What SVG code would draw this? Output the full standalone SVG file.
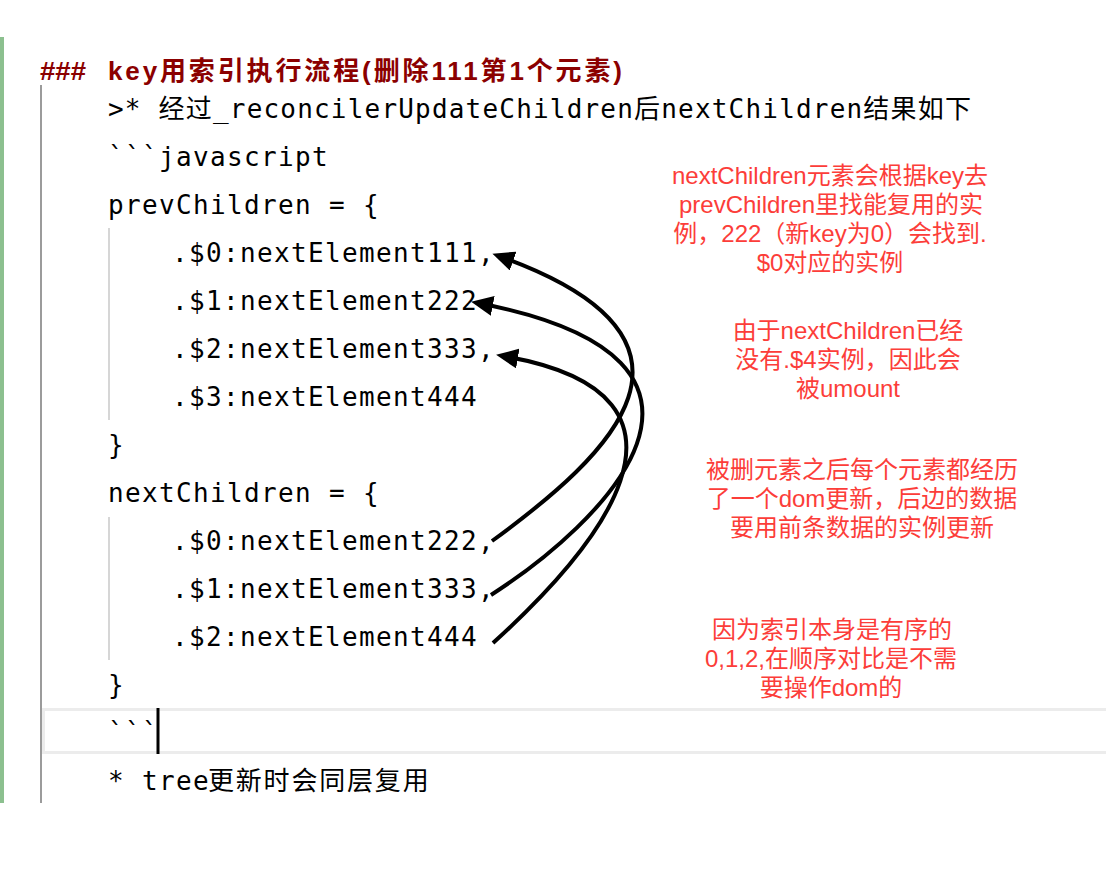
<svg xmlns="http://www.w3.org/2000/svg" width="1106" height="886" viewBox="0 0 1106 886">
<style>
.code{font-family:"DejaVu Sans Mono","Noto Sans CJK SC",monospace;font-size:26px;fill:#000;letter-spacing:1.35px}
.cjk{font-family:"DejaVu Sans Mono","Noto Sans CJK SC",monospace;font-size:26px;fill:#000}
.head{font-family:"Liberation Sans","Noto Sans CJK SC",sans-serif;font-size:26px;font-weight:bold;fill:#8b0000}
.note{font-family:"Liberation Sans","Noto Sans CJK SC",sans-serif;font-size:24px;fill:#fc3d39;text-anchor:middle}
.arrow{fill:none;stroke:#000;stroke-width:4}
</style>
<defs>
<marker id="ah" markerUnits="userSpaceOnUse" viewBox="0 0 22 20" refX="15" refY="10" markerWidth="22" markerHeight="20" orient="auto">
<path d="M0,0 L22,10 L0,20 Z" fill="#000"/>
</marker>
</defs>
<rect width="1106" height="886" fill="#fff"/>
<g id="frame">
<rect x="0" y="37" width="4" height="766" fill="#8cc08f"/>
<rect x="40" y="85" width="2" height="718" fill="#9b9b9b"/>
<rect x="108" y="228" width="2" height="192" fill="#d6d6d6"/>
<rect x="108" y="517" width="2" height="143" fill="#d6d6d6"/>
<rect x="43.5" y="709.5" width="1070" height="43" fill="#fff" stroke="#ececec" stroke-width="3"/>
<rect x="156.5" y="708" width="3" height="46" fill="#000"/>
</g>
<g id="heading">
<text class="head" x="40" y="80" textLength="46" lengthAdjust="spacingAndGlyphs">###</text>
<text class="head" x="108" y="80" textLength="514" lengthAdjust="spacing">key用索引执行流程(删除111第1个元素)</text>
</g>
<g id="code">
<text class="cjk" x="108" y="118" textLength="863" lengthAdjust="spacing">&gt;* 经过_reconcilerUpdateChildren后nextChildren结果如下</text>
<text class="code" x="108" y="166">```javascript</text>
<text class="code" x="108" y="214">prevChildren = {</text>
<text class="code" x="172" y="262">.$0:nextElement111,</text>
<text class="code" x="172" y="310">.$1:nextElement222</text>
<text class="code" x="172" y="358">.$2:nextElement333,</text>
<text class="code" x="172" y="406">.$3:nextElement444</text>
<text class="code" x="108" y="454">}</text>
<text class="code" x="108" y="502">nextChildren = {</text>
<text class="code" x="172" y="550">.$0:nextElement222,</text>
<text class="code" x="172" y="598">.$1:nextElement333,</text>
<text class="code" x="172" y="646">.$2:nextElement444</text>
<text class="code" x="108" y="694">}</text>
<text class="code" x="108" y="742">```</text>
<text class="code" x="108" y="790">* tree<tspan class="cjk" x="208" textLength="222" lengthAdjust="spacing">更新时会同层复用</tspan></text>
</g>
<g id="note1">
<text class="note" x="830" y="184">nextChildren元素会根据key去</text>
<text class="note" x="831" y="213">prevChildren里找能复用的实</text>
<text class="note" x="830" y="242">例，222（新key为0）会找到.</text>
<text class="note" x="830" y="271">$0对应的实例</text>
</g>
<g id="note2">
<text class="note" x="848" y="339">由于nextChildren已经</text>
<text class="note" x="848" y="368">没有.$4实例，因此会</text>
<text class="note" x="848" y="397">被umount</text>
</g>
<g id="note3">
<text class="note" x="862" y="478">被删元素之后每个元素都经历</text>
<text class="note" x="862" y="507">了一个dom更新，后边的数据</text>
<text class="note" x="862" y="536">要用前条数据的实例更新</text>
</g>
<g id="note4">
<text class="note" x="832" y="638">因为索引本身是有序的</text>
<text class="note" x="831" y="667">0,1,2,在顺序对比是不需</text>
<text class="note" x="831" y="696">要操作dom的</text>
</g>
<g id="connectors">
<path class="arrow" marker-end="url(#ah)" d="M492,541 C610,455 735,340 499,256"/>
<path class="arrow" marker-end="url(#ah)" d="M491,595 C600,525 775,360 478,303"/>
<path class="arrow" marker-end="url(#ah)" d="M493,643 C590,555 732,395 503,356"/>
</g>
</svg>
